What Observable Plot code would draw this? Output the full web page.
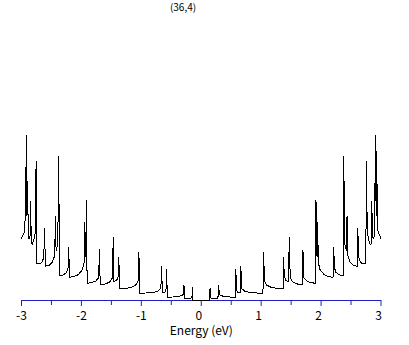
<!DOCTYPE html>
<html>
<head>
<meta charset="utf-8">
<script src="https://cdn.jsdelivr.net/npm/d3@7"></script>
<script src="https://cdn.jsdelivr.net/npm/@observablehq/plot@0.6"></script>
<style>
  html, body { margin: 0; padding: 0; background: #fff; }
</style>
</head>
<body>
<div id="chart"></div>
<script>
const title = "(36,4)";
const xLabel = "Energy (eV)";
const majorTicks = [-3, -2, -1, 0, 1, 2, 3];
const minorTicks = [-2.5, -1.5, -0.5, 0.5, 1.5, 2.5];

// Energy (eV)
const energy = [
  -3.000, -2.963, -2.943, -2.930, -2.923, -2.915, -2.905, -2.896, -2.888, -2.876,
  -2.858, -2.846, -2.838, -2.821, -2.793, -2.771, -2.756, -2.747, -2.709, -2.659,
  -2.629, -2.612, -2.604, -2.542, -2.483, -2.446, -2.433, -2.423, -2.395, -2.378,
  -2.368, -2.308, -2.249, -2.222, -2.211, -2.201, -2.132, -2.048, -1.982, -1.953,
  -1.943, -1.933, -1.923, -1.915, -1.905, -1.839, -1.764, -1.714, -1.697, -1.687,
  -1.614, -1.530, -1.485, -1.468, -1.458, -1.413, -1.385, -1.375, -1.365, -1.263,
  -1.162, -1.095, -1.055, -1.040, -1.030, -0.928, -0.811, -0.727, -0.674, -0.661,
  -0.650, -0.602, -0.587, -0.577, -0.567, -0.477, -0.376, -0.304, -0.288, -0.278,
  -0.209, -0.156, -0.147, -0.139,
   0.139,  0.147,  0.156,  0.209,
   0.278,  0.288,  0.304,  0.376,  0.477,  0.567,  0.577,  0.587,  0.602,  0.650,
   0.661,  0.674,  0.727,  0.811,  0.928,  1.030,  1.040,  1.055,  1.095,  1.162,
   1.263,  1.365,  1.375,  1.385,  1.413,  1.458,  1.468,  1.485,  1.530,  1.614,
   1.687,  1.697,  1.714,  1.764,  1.839,  1.905,  1.915,  1.923,  1.933,  1.943,
   1.953,  1.982,  2.048,  2.132,  2.201,  2.211,  2.222,  2.249,  2.308,  2.368,
   2.378,  2.395,  2.423,  2.433,  2.446,  2.483,  2.542,  2.604,  2.612,  2.629,
   2.659,  2.709,  2.747,  2.756,  2.771,  2.793,  2.821,  2.838,  2.846,  2.858,
   2.876,  2.888,  2.896,  2.905,  2.915,  2.923,  2.930,  2.943,  2.963,  3.000
];

// Density of states (arbitrary units)
const dos = [
  0.620, 0.667, 0.710, 1.333, 0.850, 1.650, 1.000, 1.170, 0.640, 0.617,
  0.640, 0.993, 0.570, 0.560, 0.610, 0.680, 1.393, 0.370, 0.365, 0.380,
  0.430, 0.723, 0.343, 0.350, 0.385, 0.450, 0.840, 0.500, 0.560, 1.440,
  0.250, 0.255, 0.280, 0.330, 0.533, 0.233, 0.237, 0.260, 0.310, 0.380,
  0.783, 0.440, 0.500, 1.000, 0.173, 0.177, 0.193, 0.225, 0.507, 0.157,
  0.163, 0.183, 0.225, 0.627, 0.190, 0.200, 0.240, 0.433, 0.117, 0.120,
  0.133, 0.153, 0.195, 0.485, 0.073, 0.075, 0.080, 0.093, 0.120, 0.343,
  0.080, 0.085, 0.120, 0.310, 0.033, 0.035, 0.040, 0.057, 0.150, 0.017,
  0.018, 0.027, 0.127, 0.000,
  0.000, 0.127, 0.027, 0.018,
  0.017, 0.150, 0.057, 0.040, 0.035, 0.033, 0.310, 0.120, 0.085, 0.080,
  0.343, 0.120, 0.093, 0.080, 0.075, 0.073, 0.485, 0.195, 0.153, 0.133,
  0.120, 0.117, 0.433, 0.240, 0.200, 0.190, 0.627, 0.225, 0.183, 0.163,
  0.157, 0.507, 0.225, 0.193, 0.177, 0.173, 1.000, 0.500, 0.440, 0.783,
  0.380, 0.310, 0.260, 0.237, 0.233, 0.533, 0.330, 0.280, 0.255, 0.250,
  1.440, 0.560, 0.500, 0.840, 0.450, 0.385, 0.350, 0.343, 0.723, 0.430,
  0.380, 0.365, 0.370, 1.393, 0.680, 0.610, 0.560, 0.570, 0.993, 0.640,
  0.617, 0.640, 1.170, 1.000, 1.650, 0.850, 1.333, 0.710, 0.667, 0.620
];

const axisBlue = "#2020c4";
const font = "'Noto Sans CJK JP', 'Liberation Sans', sans-serif";

const chart = Plot.plot({
  width: 409,
  height: 345,
  marginLeft: 21,
  marginRight: 28.5,
  marginTop: 20,
  marginBottom: 45,
  style: { fontFamily: font, background: "#fff", color: "#000" },
  x: { domain: [-3, 3], label: null },
  y: { domain: [0, 2.8], axis: null },
  marks: [
    Plot.ruleY([0], { stroke: axisBlue, strokeWidth: 1, shapeRendering: "crispEdges" }),
    Plot.axisX({ ticks: majorTicks, tickSize: 6, stroke: axisBlue, strokeWidth: 1, tickFormat: () => "", label: null }),
    Plot.axisX({ ticks: minorTicks, tickSize: 5, stroke: axisBlue, strokeWidth: 1, tickFormat: () => "", label: null }),
    Plot.axisX({ ticks: majorTicks.filter(d => d < 0), tickSize: 0, tickPadding: 10.5, fontSize: 12, fill: "#000",
                 tickFormat: d => "-" + Math.abs(d), label: null }),
    Plot.axisX({ ticks: majorTicks.filter(d => d >= 0), tickSize: 0, tickPadding: 10.5, fontSize: 12, fill: "#000",
                 dx: -2.5, tickFormat: d => String(d), label: null }),
    Plot.lineY(dos, { x: energy, stroke: "#000", strokeWidth: 1, shapeRendering: "crispEdges" }),
    Plot.text([xLabel], { frameAnchor: "bottom", dy: 26, lineAnchor: "top", fontSize: 12, fill: "#000" }),
    Plot.text([title], { frameAnchor: "top-left", dx: 161.5, dy: -17, lineAnchor: "top", textAnchor: "middle", fontSize: 10, fill: "#000" })
  ]
});
document.getElementById("chart").appendChild(chart);
</script>
</body>
</html>
